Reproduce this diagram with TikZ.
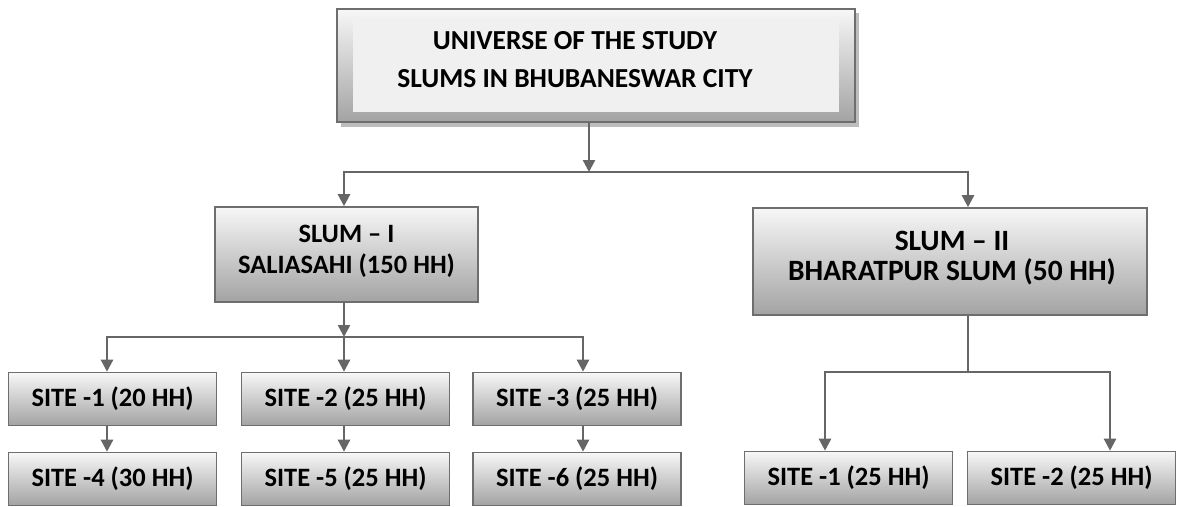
\documentclass[tikz,border=0pt]{standalone}
\usepackage{fontspec}
\setmainfont{Carlito}
\usetikzlibrary{arrows.meta}
\definecolor{edgegray}{HTML}{6E6E6E}
\definecolor{linegray}{HTML}{666666}
\definecolor{topcol}{HTML}{F7F7F7}
\definecolor{botcol}{HTML}{A3A3A3}
\definecolor{innercol}{HTML}{F0F0F0}
\definecolor{shadowcol}{HTML}{BDBDBD}
\tikzset{
  gbox/.style={draw=edgegray, line width=1.6pt, top color=topcol, bottom color=botcol,
    inner sep=0pt, align=center, font=\bfseries},
  sitebox/.style={gbox, minimum width=208pt, minimum height=53pt, font=\fontsize{26.5}{30}\selectfont\bfseries},
  slumtext/.style={inner sep=0pt, align=center, font=\fontsize{26.5}{31}\selectfont\bfseries},
  arr/.style={draw=linegray, line width=2.4pt, -{Triangle[width=12pt,length=12pt]}},
  conn/.style={draw=linegray, line width=2.4pt},
}
\begin{document}
\begin{tikzpicture}[x=1pt,y=-1pt]
\useasboundingbox (0,0) rectangle (1177,506);
% top box
\fill[shadowcol] (341,13) rectangle (859,127);
\node[gbox, minimum width=518pt, minimum height=113pt] (top) at (596,65.5) {};
\node[fill=innercol, minimum width=486pt, minimum height=92pt, inner sep=0pt] (inner) at (596,66) {};
\node[slumtext, font=\fontsize{27.5}{38}\selectfont\bfseries] (toptext) at (575,60) {UNIVERSE OF THE STUDY\\SLUMS IN BHUBANESWAR CITY};
% slums
\node[gbox, minimum width=263pt, minimum height=95pt] (s1) at (346.5,254.5) {};
\node[slumtext] (s1t) at (346.5,251.5) {SLUM -- I\\SALIASAHI (150 HH)};
\node[gbox, minimum width=394pt, minimum height=107pt] (s2) at (950,261.5) {};
\node[slumtext, font=\fontsize{29.5}{30}\selectfont\bfseries] (s2t) at (952,258.5) {SLUM -- II\\BHARATPUR SLUM (50 HH)};
% sites slum I
\node[sitebox] (a1) at (112.5,399) {SITE -1 (20 HH)};
\node[sitebox] (a2) at (345.5,399) {SITE -2 (25 HH)};
\node[sitebox] (a3) at (577,399) {SITE -3 (25 HH)};
\node[sitebox] (a4) at (112.5,479) {SITE -4 (30 HH)};
\node[sitebox] (a5) at (345.5,479) {SITE -5 (25 HH)};
\node[sitebox] (a6) at (577,479) {SITE -6 (25 HH)};
% sites slum II
\node[sitebox] (b1) at (848.5,478) {SITE -1 (25 HH)};
\node[sitebox] (b2) at (1071.5,478) {SITE -2 (25 HH)};
% junction coordinates
\coordinate (j1) at (589,172);
\coordinate (j2) at (344,337);
\coordinate (j3) at (968,372);
% connectors
\draw[arr] (top.south -| j1) -- (j1);
\draw[arr] (j1) -| (s1.north -| j2);
\draw[arr] (j1) -| (s2.north -| j3);
\draw[arr] (s1.south -| j2) -- (j2);
\draw[arr] (j2) -| (a1.north -| 107,0);
\draw[arr] (j2) -- (a2.north -| j2);
\draw[arr] (j2) -| (a3.north -| 583,0);
\draw[arr] (a1.south -| 107,0) -- (a4.north -| 107,0);
\draw[arr] (a2.south -| j2) -- (a5.north -| j2);
\draw[arr] (a3.south -| 583,0) -- (a6.north -| 583,0);
\draw[conn] (s2.south -| j3) -- (j3);
\draw[arr] (j3) -| (b1.north -| 825,0);
\draw[arr] (j3) -| (b2.north -| 1110,0);
\end{tikzpicture}
\end{document}
